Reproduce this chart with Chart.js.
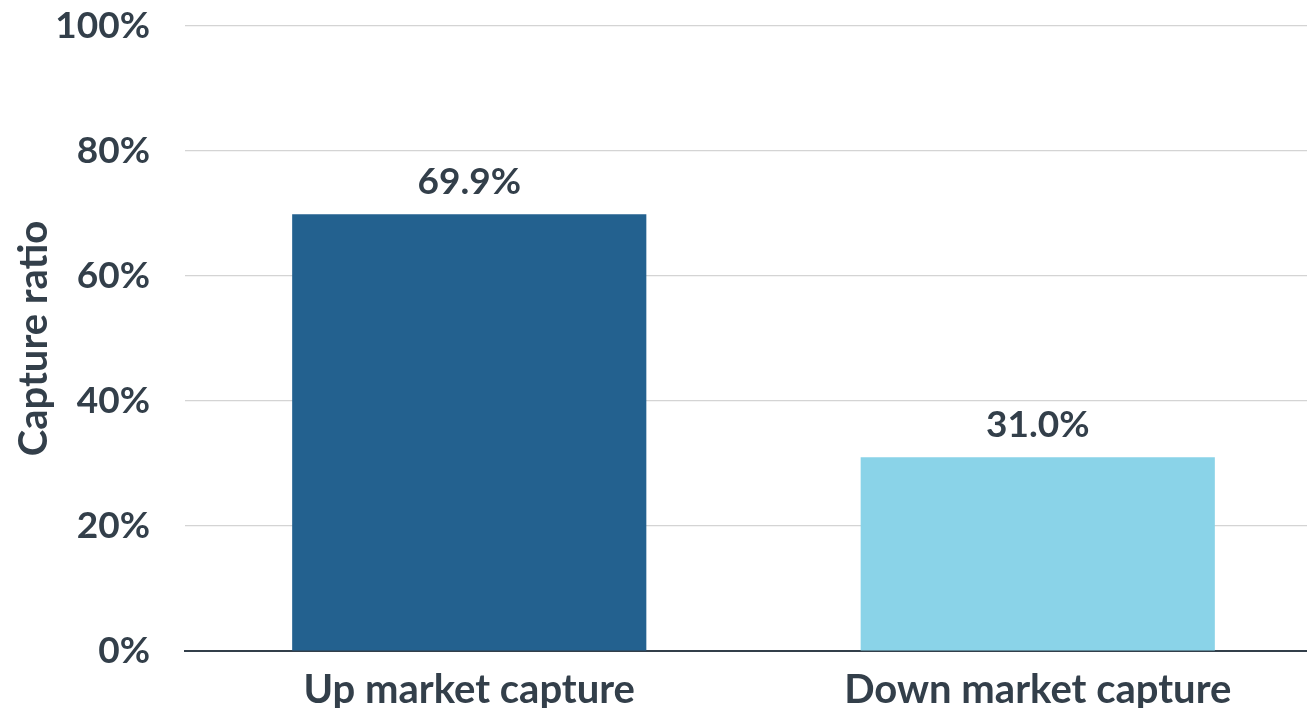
<!DOCTYPE html>
<html>
<head>
<meta charset="utf-8">
<script src="https://cdn.jsdelivr.net/npm/chart.js@4"></script>
<style>
  html, body { margin: 0; padding: 0; background: #fff; overflow: hidden; }
  #wrap { width: 1322px; height: 708px; position: relative; }
</style>
</head>
<body>
<div id="wrap"><canvas id="chart"></canvas></div>
<script>
// chart data
var categories = ['Up market capture', 'Down market capture'];
var captureRatio = [69.9, 31.0];
var barColors = ['#23618F', '#8AD3E8'];
var yTicks = [0, 20, 40, 60, 80, 100];

var textColor = '#333F4A';
var fontFamily = 'Lato, "DejaVu Sans", sans-serif';

// value labels above the bars
const valueLabels = {
    id: 'value_labels',
    afterDatasetsDraw: (chart) => {
        const ctx = chart.ctx;
        const meta = chart.getDatasetMeta(0);
        ctx.save();
        ctx.fillStyle = textColor;
        ctx.font = 'bold 37px ' + fontFamily;
        ctx.textAlign = 'center';
        ctx.textBaseline = 'alphabetic';
        meta.data.forEach((bar, i) => {
            ctx.fillText(captureRatio[i].toFixed(1) + '%', bar.x, bar.y - 20);
        });
        ctx.restore();
    }
};

var ctx = document.getElementById('chart').getContext('2d');
var myChart = new Chart(ctx, {
    type: 'bar',
    data: {
        labels: categories,
        datasets: [{
            data: captureRatio,
            backgroundColor: barColors,
            borderWidth: 0,
            categoryPercentage: 1,
            barPercentage: 0.623
        }]
    },
    options: {
        responsive: true,
        maintainAspectRatio: false,
        animation: false,
        layout: { padding: { top: 26, right: 0, left: 0, bottom: 0 } },
        scales: {
            x: {
                grid: { display: false, drawTicks: false },
                border: { display: true, color: '#333F4A', width: 2 },
                ticks: {
                    color: textColor,
                    padding: 15,
                    font: { family: fontFamily, size: 40, weight: 'bold' }
                },
                afterFit: (axis) => {
                    axis.height = 57;
                    axis.paddingLeft = 0;
                    axis.paddingRight = 0;
                }
            },
            y: {
                min: 0,
                max: 100,
                afterBuildTicks: (axis) => { axis.ticks = yTicks.map(v => ({ value: v })); },
                grid: { color: '#D4D4D4', lineWidth: 1.2, drawTicks: false },
                border: { display: false },
                ticks: {
                    color: textColor,
                    padding: 35,
                    font: { family: fontFamily, size: 37, weight: 'bold' },
                    callback: (v) => v + '%'
                },
                title: {
                    display: true,
                    text: 'Capture ratio',
                    color: textColor,
                    padding: { top: 10, bottom: 0 },
                    font: { family: fontFamily, size: 40, weight: 'bold' }
                },
                afterFit: (axis) => {
                    axis.width = 185;
                    axis.paddingTop = 0;
                    axis.paddingBottom = 0;
                }
            }
        },
        plugins: {
            legend: { display: false },
            tooltip: { enabled: false }
        }
    },
    plugins: [valueLabels]
});
</script>
</body>
</html>
